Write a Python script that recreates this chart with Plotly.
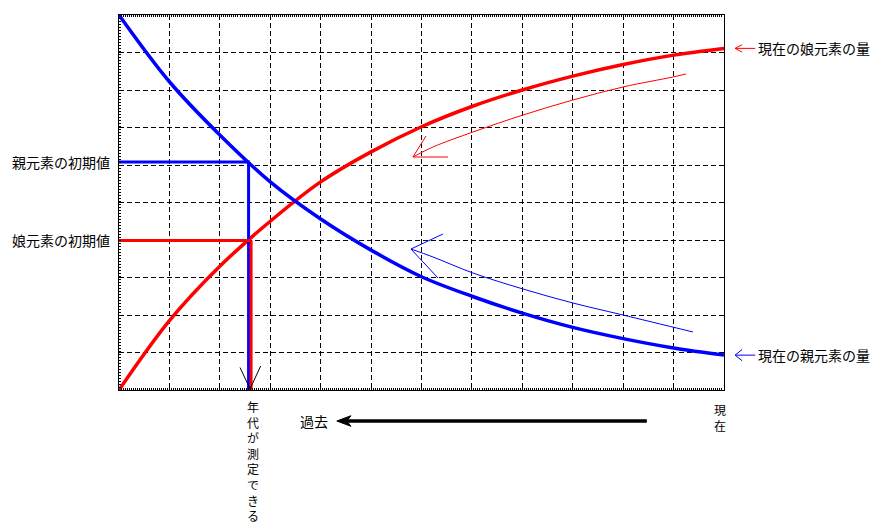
import plotly.graph_objects as go

# ---- data (x = time in grid units, present at right) ----
time_x = [0, 1, 2, 3, 4, 5, 6, 7, 8, 9, 10, 11, 12]
parent = [10, 8.22, 6.8, 5.55, 4.56, 3.73, 3.02, 2.5, 2.05, 1.67, 1.37, 1.12, 0.93]
daughter = [0, 1.85, 3.3, 4.5, 5.55, 6.35, 7.02, 7.56, 8.0, 8.37, 8.68, 8.93, 9.11]

measured_x = 2.6
parent_init = 6.08
daughter_init = 3.99

# thin hand-drawn pointer arrows (data units)
red_ptr_x = [11.245, 10.988, 9.996, 9.004, 8.013, 7.021, 6.228, 5.831]
red_ptr_y = [8.427, 8.347, 8.08, 7.733, 7.333, 6.88, 6.48, 6.213]
red_barb_x = [6.089, 5.831, 6.525]
red_barb_y = [6.773, 6.213, 6.213]
blue_ptr_x = [11.384, 9.996, 9.004, 8.013, 7.021, 6.228, 5.791]
blue_ptr_y = [1.547, 2.0, 2.32, 2.693, 3.12, 3.547, 3.76]
blue_barb_x = [6.426, 5.791, 6.327]
blue_barb_y = [4.16, 3.76, 2.987]

# labels
label_parent_init = "親元素の初期値"
label_daughter_init = "娘元素の初期値"
label_daughter_now = "現在の娘元素の量"
label_parent_now = "現在の親元素の量"
label_measurable = "年代が測定できる"
label_now = "現在"
label_past = "過去"

XMAX, YMAX = 12, 10
FONT = "Noto Sans CJK JP"
RED = "#ff0000"
BLUE = "#0000ff"

fig = go.Figure()

fig.add_trace(go.Scatter(x=time_x, y=daughter, mode="lines",
                         line=dict(color=RED, width=3.5, shape="spline", smoothing=1), hoverinfo="skip"))
fig.add_trace(go.Scatter(x=time_x, y=parent, mode="lines",
                         line=dict(color=BLUE, width=3.5, shape="spline", smoothing=1), hoverinfo="skip"))
# initial-value guide lines
fig.add_trace(go.Scatter(x=[0, measured_x], y=[parent_init, parent_init], mode="lines",
                         line=dict(color=BLUE, width=3), hoverinfo="skip"))
fig.add_trace(go.Scatter(x=[measured_x - 0.03, measured_x - 0.03], y=[parent_init, 0], mode="lines",
                         line=dict(color=BLUE, width=3), hoverinfo="skip"))
fig.add_trace(go.Scatter(x=[0, measured_x], y=[daughter_init, daughter_init], mode="lines",
                         line=dict(color=RED, width=3), hoverinfo="skip"))
fig.add_trace(go.Scatter(x=[measured_x + 0.02, measured_x + 0.02], y=[daughter_init, 0], mode="lines",
                         line=dict(color=RED, width=3), hoverinfo="skip"))
# pointer arrows
fig.add_trace(go.Scatter(x=red_ptr_x, y=red_ptr_y, mode="lines",
                         line=dict(color=RED, width=1, shape="spline"), hoverinfo="skip"))
fig.add_trace(go.Scatter(x=red_barb_x, y=red_barb_y, mode="lines",
                         line=dict(color=RED, width=1), hoverinfo="skip"))
fig.add_trace(go.Scatter(x=blue_ptr_x, y=blue_ptr_y, mode="lines",
                         line=dict(color=BLUE, width=1, shape="spline"), hoverinfo="skip"))
fig.add_trace(go.Scatter(x=blue_barb_x, y=blue_barb_y, mode="lines",
                         line=dict(color=BLUE, width=1), hoverinfo="skip"))
# black V marker at the measured age
fig.add_trace(go.Scatter(x=[measured_x - 0.2, measured_x, measured_x + 0.21],
                         y=[0.6, 0.03, 0.64], mode="lines",
                         line=dict(color="black", width=1), hoverinfo="skip"))


def px(x):
    return x / XMAX


def py(y):
    return y / YMAX


shapes = []
# small arrows beside the right-hand labels (paper coords so they are not clipped)
for yv, col, dy in [(daughter[-1], RED, 0.1), (parent[-1], BLUE, 0.15)]:
    hx = 12.22
    shapes.append(dict(type="line", xref="paper", yref="paper", x0=px(hx), x1=px(12.62),
                       y0=py(yv), y1=py(yv), line=dict(color=col, width=1)))
    shapes.append(dict(type="path", xref="paper", yref="paper",
                       path=f"M {px(hx + 0.14)} {py(yv + dy)} L {px(hx)} {py(yv)} L {px(hx + 0.14)} {py(yv - dy)}",
                       line=dict(color=col, width=1)))
# bold "toward the past" arrow under the axis
ya = -0.827
shapes.append(dict(type="line", xref="paper", yref="paper", x0=px(10.47), x1=px(4.45),
                   y0=py(ya), y1=py(ya), line=dict(color="black", width=3.5)))
shapes.append(dict(type="path", xref="paper", yref="paper",
                   path=(f"M {px(4.32)} {py(ya)} L {px(4.6)} {py(ya + 0.14)} "
                         f"L {px(4.52)} {py(ya)} L {px(4.6)} {py(ya - 0.14)} Z"),
                   fillcolor="black", line=dict(color="black", width=1)))

txt_font = dict(size=14, color="black", family=FONT)
vert_font = dict(size=12, color="black", family=FONT)


def label(x, y, text, xanchor, yanchor, font=txt_font):
    return dict(x=px(x), y=py(y), xref="paper", yref="paper", text=text, showarrow=False,
                xanchor=xanchor, yanchor=yanchor, font=font)


annotations = [
    label(-0.14, parent_init, label_parent_init, "right", "middle"),
    label(-0.14, daughter_init, label_daughter_init, "right", "middle"),
    label(12.63, daughter[-1], label_daughter_now, "left", "middle"),
    label(12.63, parent[-1], label_parent_now, "left", "middle"),
    label(3.87, ya, label_past, "center", "middle"),
    # vertical (tategaki) labels, one character per line
    label(2.66, -0.15, "<br>".join(label_measurable), "center", "top", vert_font),
    label(11.92, -0.25, "<br>".join(label_now), "center", "top", vert_font),
]

axis_common = dict(showticklabels=False, showline=True, linecolor="black", linewidth=1,
                   showgrid=True, gridcolor="black", gridwidth=1, griddash="5px,3px",
                   zeroline=False, ticks="inside", ticklen=2, tickcolor="black", tickwidth=1,
                   fixedrange=True)

fig.update_layout(
    width=876, height=517, autosize=False,
    margin=dict(l=111, r=160, t=7, b=135),
    paper_bgcolor="white", plot_bgcolor="white",
    showlegend=False,
    xaxis=dict(range=[0, XMAX], dtick=1, tick0=0, mirror="ticks",
               minor=dict(dtick=0.04, ticks="inside", ticklen=2, tickcolor="black", showgrid=False),
               **axis_common),
    yaxis=dict(range=[0, YMAX], dtick=1, tick0=0, mirror=True,
               minor=dict(dtick=0.08, ticks="inside", ticklen=2, tickcolor="black", showgrid=False),
               **axis_common),
    shapes=shapes,
    annotations=annotations,
)

fig.write_html("out.html")
